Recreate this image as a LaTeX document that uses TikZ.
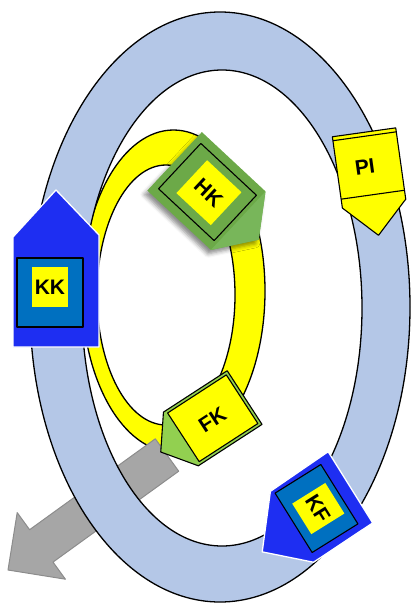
\documentclass[tikz,border=0pt]{standalone}
\usepackage{fontspec}
\setmainfont{Liberation Sans}
\usetikzlibrary{shadows.blur}
\definecolor{ringblue}{HTML}{B4C7E7}
\definecolor{yel}{HTML}{FFFF00}
\definecolor{kblue}{HTML}{1E2EF2}
\definecolor{kinner}{HTML}{0070C0}
\definecolor{hkgreen}{HTML}{6CA948}
\definecolor{hklight}{HTML}{78B65A}
\definecolor{fkgreen}{HTML}{92D050}
\definecolor{arrowgray}{HTML}{A6A6A6}
\definecolor{arrowedge}{HTML}{8C8C8C}
\begin{document}
\begin{tikzpicture}[x=1pt,y=-1pt,line join=round,
  lab/.style={font=\fontsize{21}{24}\selectfont\bfseries,inner sep=0pt},
  outl/.style={draw=black,line width=1.1pt},
  ringline/.style={draw=black,line width=1.3pt},
  whiteline/.style={draw=white,line width=1.3pt}]
\useasboundingbox (0,0) rectangle (411,603);

% yellow ring
\fill[yel,even odd rule] (173.5,291) ellipse [x radius=91.5pt,y radius=161pt]
  (166,295) ellipse [x radius=69pt,y radius=130pt];
\draw[ringline] (173.5,291) ellipse [x radius=91.5pt,y radius=161pt];
\draw[ringline] (166,295) ellipse [x radius=69pt,y radius=130pt];

% gray arrow
\draw[fill=arrowgray,draw=arrowedge,line width=1pt]
  (155.3,438.8) -- (178.7,471.2) -- (53,562.1) -- (65.4,579.2) -- (8,570)
  -- (17.2,512.6) -- (29.6,529.7) -- cycle;

% blue ring
\fill[ringblue,even odd rule] (220,307) ellipse [x radius=190pt,y radius=295pt]
  (222,308) ellipse [x radius=140pt,y radius=238pt];
\draw[ringline] (220,307) ellipse [x radius=190pt,y radius=295pt];
\draw[ringline] (222,308) ellipse [x radius=140pt,y radius=238pt];

% PI
\begin{scope}[shift={(368.5,164)},rotate=8]
  \draw[fill=yel,outl] (-32,-32) -- (32,-32) -- (32,40) -- (0,72) -- (-32,40) -- cycle;
  \draw[outl] (-32,-28) -- (32,-28);
  \draw[outl] (-32,31) -- (32,31);
  \node[lab,rotate=8] (pi) at (-4,2) {PI};
\end{scope}

% KK
\draw[fill=kblue,whiteline] (56,190) -- (99,235) -- (99,347) -- (13,347) -- (13,237) -- cycle;
\draw[fill=kinner,outl] (17,258) rectangle (83,327);
\fill[yel] (32,267) rectangle (68,307);
\node[lab] (kk) at (50,287) {KK};

% HK
\begin{scope}[shift={(207.5,192)},rotate=-43]
  \fill[hkgreen,blur shadow={shadow xshift=-3pt,shadow yshift=-4pt,shadow blur radius=4pt,shadow opacity=45}]
    (-45,-40) -- (42,-40) -- (70,0) -- (42,40) -- (-45,40) -- cycle;
  \fill[hklight] (42,-40) -- (70,0) -- (42,40) -- cycle;
  \draw[fill=hkgreen,outl] (-38,-31) rectangle (38,31);
  \fill[yel] (-22,-23) rectangle (25,22);
  \node[lab,rotate=-43] (hk) at (1.5,0) {HK};
\end{scope}

% FK
\begin{scope}[shift={(212.75,418.25)},rotate=33]
  \draw[fill=fkgreen,outl] (-38,-32) -- (38,-32) -- (38,32) -- (-38,32) -- (-62,0) -- cycle;
  \draw[fill=yel,outl] (-35,-29) rectangle (35,29);
  \node[lab,rotate=33] (fk) at (-1,1) {FK};
\end{scope}

% KF
\begin{scope}[shift={(316.5,508.5)},rotate=-58]
  \draw[fill=kblue,whiteline] (-42,-40) -- (42,-40) -- (44,31) -- (8,69) -- (-39,30) -- cycle;
  \draw[fill=kinner,outl] (-35,-27) rectangle (35,27);
  \fill[yel] (-17,-21) rectangle (19,18);
  \node[lab,rotate=-58] (kf) at (1,-1) {KF};
\end{scope}
\end{tikzpicture}
\end{document}
